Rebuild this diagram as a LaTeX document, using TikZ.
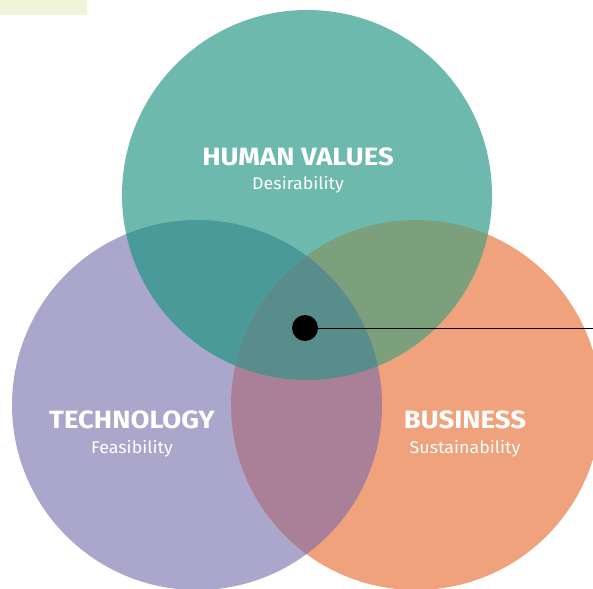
\documentclass[tikz,border=0pt]{standalone}
\usepackage{fontspec}
\setmainfont{Fira Sans}
\newfontfamily\titlefont[FakeStretch=1.1]{Fira Sans Bold}
\newfontfamily\subfont[FakeStretch=1.05]{Fira Sans}
\definecolor{cT}{HTML}{6DB9AE}
\definecolor{cP}{HTML}{ABA6CB}
\definecolor{cO}{HTML}{EFA27B}
\definecolor{cTP}{HTML}{4A9A99}
\definecolor{cTO}{HTML}{7CA07B}
\definecolor{cPO}{HTML}{AA8099}
\definecolor{cTPO}{HTML}{588D8B}
\definecolor{cY}{HTML}{F0F5DA}
\tikzset{
  title/.style={text=white,font=\titlefont\fontsize{25}{28}\selectfont,inner sep=0pt,anchor=center},
  sub/.style={text=white,font=\subfont\fontsize{17}{19}\selectfont,inner sep=0pt,anchor=center},
}
\begin{document}
\begin{tikzpicture}[x=1pt,y=-1pt]
\useasboundingbox (0,0) rectangle (593,588);
\clip (0,0) rectangle (593,588);
\fill[cY] (0,0) rectangle (87,15);
\def\T{(307,195) circle (185)}
\def\P{(197,405) circle (185)}
\def\O{(416,405) circle (185)}
\fill[cP] \P;
\fill[cO] \O;
\fill[cT] \T;
\begin{scope}\clip \T; \fill[cTP] \P; \fill[cTO] \O; \end{scope}
\begin{scope}\clip \P; \fill[cPO] \O; \end{scope}
\begin{scope}\clip \T; \clip \P; \fill[cTPO] \O; \end{scope}
\node[title] (hv) at (298,157) {HUMAN VALUES};
\node[sub] (des) at (298,185) {Desirability};
\node[title] (tech) at (132,420) {TECHNOLOGY};
\node[sub] (fea) at (132,449) {Feasibility};
\node[title] (bus) at (465,420) {BUSINESS};
\node[sub] (sus) at (465,449) {Sustainability};
\node[circle,fill=black,minimum size=26pt,inner sep=0pt] (dot) at (305,328) {};
\coordinate (end) at (593,328);
\draw[black,line width=1pt] (dot) -- (end);
\end{tikzpicture}
\end{document}
